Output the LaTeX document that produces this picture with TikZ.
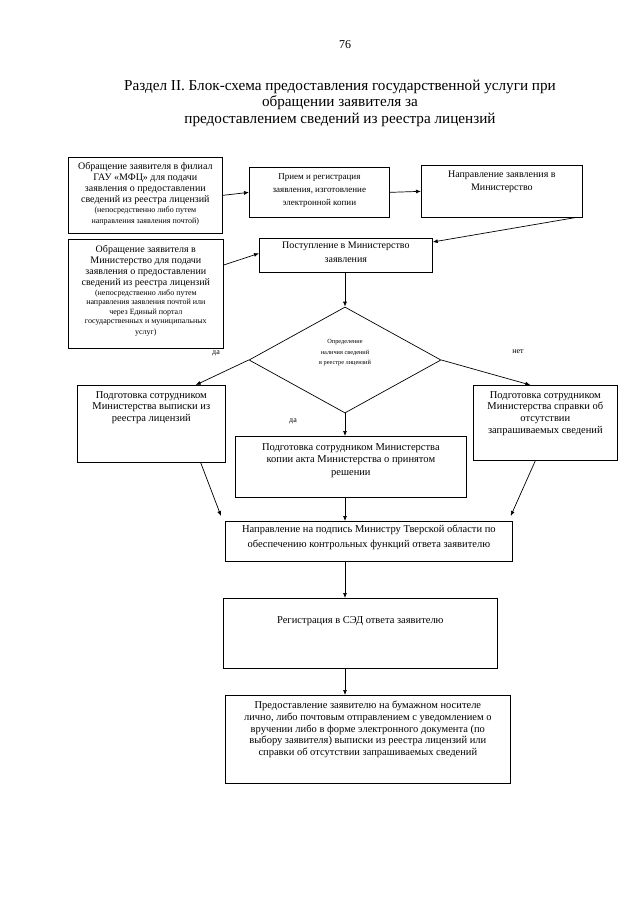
\documentclass[tikz,border=0pt]{standalone}
\usepackage{fontspec}
\setmainfont{Liberation Serif}
\usepackage{tikz}
\usetikzlibrary{arrows.meta}
\usetikzlibrary{shapes.geometric, positioning}

% text of a box, set from the top
\newcommand{\blok}[4][6pt]{\parbox[c][#3][t]{#2}{\centering\vspace*{#1}#4}}

\begin{document}
\begin{tikzpicture}[x=1pt, y=-1pt,
	ramka/.style={draw, line width=0.7pt, anchor=north west, inner xsep=3pt, inner ysep=0pt},
	strelka/.style={line width=0.7pt, -{Latex[length=5pt,width=4pt]}},
	metka/.style={font=\fontsize{8}{9}\selectfont}]
		\useasboundingbox (0,0) rectangle (640,905);
		\node[font=\fontsize{12}{14}\selectfont] (nomer) at (345,45) {76};
		\node[align=center, font=\fontsize{15.2}{16.5}\selectfont] (zag) at (340,103) {Раздел II. Блок-схема предоставления государственной услуги при\\обращении заявителя за\\предоставлением сведений из реестра лицензий};
		% upper row
		\node[ramka, font=\fontsize{10}{11}\selectfont] (b1) at (68,157) {\blok[5pt]{148pt}{76pt}{Обращение заявителя в филиал\\ГАУ «МФЦ» для подачи\\заявления о предоставлении\\сведений из реестра лицензий\\{\fontsize{8}{9.5}\selectfont (непосредственно либо путем\\направления заявления почтой)}}};
		\node[ramka, font=\fontsize{9}{13}\selectfont] (b2) at (249,167) {\blok{134pt}{50pt}{Прием и регистрация\\заявления, изготовление\\электронной копии}};
		\node[ramka, font=\fontsize{10}{13}\selectfont] (b3) at (421,165) {\blok{155pt}{52pt}{Направление заявления в\\Министерство}};
		\node[ramka, font=\fontsize{10}{11}\selectfont] (b4) at (68,239) {\blok{149pt}{109pt}{Обращение заявителя в\\Министерство для подачи\\заявления о предоставлении\\сведений из реестра лицензий\\{\fontsize{8}{9.5}\selectfont (непосредственно либо путем\\направления заявления почтой или\\через Единый портал\\государственных и муниципальных\\услуг)}}};
		\node[ramka, font=\fontsize{10}{14}\selectfont] (b5) at (259,238) {\blok[4pt]{167pt}{34pt}{Поступление в Министерство\\заявления}};
		% decision
		\node[draw, diamond, aspect=1.8, inner sep=0pt, line width=0.7pt, minimum width=192pt, minimum height=106pt] (d) at (345,360) {};
		\node[align=center, font=\fontsize{6.3}{10.5}\selectfont] (dtext) at (345,353) {Определение\\наличия сведений\\в реестре лицензий};
		\node[metka] (da1) at (216,353) {да};
		\node[metka] (da2) at (293,421) {да};
		\node[metka] (net) at (518,352) {нет};
		% preparation
		\node[ramka, font=\fontsize{10.5}{11.7}\selectfont] (b6) at (77,385) {\blok{142pt}{77pt}{Подготовка сотрудником\\Министерства выписки из\\реестра лицензий}};
		\node[ramka, font=\fontsize{10.5}{11.7}\selectfont] (b7) at (473,385) {\blok{138pt}{75pt}{Подготовка сотрудником\\Министерства справки об\\отсутствии\\запрашиваемых сведений}};
		\node[ramka, font=\fontsize{10.5}{12.5}\selectfont] (b8) at (235,436) {\blok[7pt]{225pt}{61pt}{Подготовка сотрудником Министерства\\копии акта Министерства о принятом\\решении}};
		% lower column
		\node[ramka, font=\fontsize{10.5}{15}\selectfont] (b9) at (225,521) {\blok[4pt]{281pt}{40pt}{Направление на подпись Министру Тверской области по\\обеспечению контрольных функций ответа заявителю}};
		\node[ramka, font=\fontsize{10.5}{12}\selectfont] (b10) at (223,598) {\blok[18pt]{268pt}{70pt}{Регистрация в СЭД ответа заявителю}};
		\node[ramka, font=\fontsize{10.5}{11.7}\selectfont] (b11) at (225,695) {\blok{279pt}{88pt}{Предоставление заявителю на бумажном носителе\\лично, либо почтовым отправлением с уведомлением о\\вручении либо в форме электронного документа (по\\выбору заявителя) выписки из реестра лицензий или\\справки об отсутствии запрашиваемых сведений}};
		% arrows
		\draw[strelka] (b1.east) -- (b2.west);
		\draw[strelka] (b2.east) -- (b3.west);
		\draw[strelka] ([xshift=-8pt]b3.south east) -- ([yshift=-4pt]b5.north east);
		\draw[strelka] ([yshift=-26pt]b4.north east) -- ([yshift=2pt]b5.west);
		\draw[strelka] (b5.south -| d.north) -- (d.north);
		\draw[strelka] (d.west) -- ([xshift=-30pt]b6.north east);
		\draw[strelka] (d.east) -- ([xshift=-15pt]b7.north);
		\draw[strelka] (d.south) -- (d.south |- b8.north);
		\draw[strelka] (d.south |- b8.south) -- (d.south |- b9.north);
		\draw[strelka] ([xshift=-25pt]b6.south east) -- ([shift={(-4pt,5pt)}]b9.north west);
		\draw[strelka] ([xshift=-10pt]b7.south) -- ([shift={(-2pt,5pt)}]b9.north east);
		\draw[strelka] (b9.south -| d.south) -- (b10.north -| d.south);
		\draw[strelka] (b10.south -| d.south) -- (b11.north -| d.south);
\end{tikzpicture}
\end{document}
